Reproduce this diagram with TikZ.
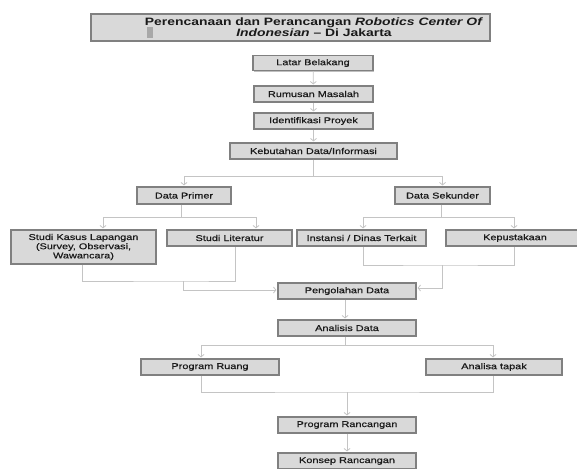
\documentclass[tikz,border=0pt]{standalone}
\usepackage{fontspec}
\setmainfont{Liberation Sans}[FakeStretch=1.3]
\newfontfamily\boxfont{Liberation Sans}[FakeStretch=1.3, FakeBold=0.6]
\usetikzlibrary{arrows.meta,shadows,calc}
\definecolor{boxfill}{HTML}{D9D9D9}
\definecolor{boxline}{HTML}{808080}
\definecolor{conn}{HTML}{C4C4C4}
\definecolor{txt}{HTML}{1A1A1A}
\definecolor{sqgray}{HTML}{A8A8A8}
\tikzset{
  box/.style={draw=boxline, line width=1.1pt, fill=boxfill, inner sep=0pt, text=txt,
    font=\boxfont\fontsize{8.4}{9.2}\selectfont,
    drop shadow={shadow xshift=1pt, shadow yshift=-1.2pt, fill=black, opacity=0.25}},
  ln/.style={draw=conn, line width=0.8pt},
  arr/.style={ln, -{Straight Barb[length=2.5pt,width=6pt,line width=0.8pt]}, shorten >=1pt},
}
\begin{document}
\begin{tikzpicture}[x=1pt,y=-1pt]
\useasboundingbox (0,0) rectangle (577,468);
% title
\node[box, minimum width=399pt, minimum height=27pt] (title) at (290.5,27.5) {};
\node[fill=sqgray, inner sep=0pt, minimum width=6pt, minimum height=11pt] (sq) at (150,32.5) {};
\node[align=center, text=txt, font=\bfseries\fontsize{10.7}{9.5}\selectfont] (tt) at (314,27)
  {Perencanaan dan Perancangan \textit{Robotics Center Of}\\\textit{Indonesian} – Di Jakarta};
% main chain
\node[box, minimum width=120pt, minimum height=15pt] (lb) at (313,63) {Latar Belakang};
\node[box, minimum width=119pt, minimum height=16pt] (rm) at (313.5,94) {Rumusan Masalah};
\node[box, minimum width=119pt, minimum height=16pt] (ip) at (313.5,121) {Identifikasi Proyek};
\node[box, minimum width=167pt, minimum height=16pt] (kb) at (313.5,151) {Kebutahan Data/Informasi};
\node[box, minimum width=94pt, minimum height=17pt] (dp) at (184,195.5) {Data Primer};
\node[box, minimum width=95pt, minimum height=17pt] (ds) at (442.5,195.5) {Data Sekunder};
\node[box, minimum width=145pt, minimum height=34pt, align=center] (sk) at (83.5,247)
  {Studi Kasus Lapangan\\(Survey, Observasi,\\Wawancara)};
\node[box, minimum width=125pt, minimum height=16pt] (sl) at (229.5,238) {Studi Literatur};
\node[box, minimum width=129pt, minimum height=16pt] (in) at (361.5,238) {Instansi / Dinas Terkait};
\node[box, minimum width=138pt, minimum height=16pt] (kp) at (515,238) {Kepustakaan};
\node[box, minimum width=138pt, minimum height=16pt] (pd) at (347,291) {Pengolahan Data};
\node[box, minimum width=138pt, minimum height=16pt] (ad) at (347,328) {Analisis Data};
\node[box, minimum width=138pt, minimum height=16pt] (pr) at (210,367) {Program Ruang};
\node[box, minimum width=136pt, minimum height=16pt] (at) at (494,367) {Analisa tapak};
\node[box, minimum width=138pt, minimum height=16pt] (prc) at (347,425) {Program Rancangan};
\node[box, minimum width=138pt, minimum height=16pt] (kr) at (347,461) {Konsep Rancangan};
% junctions
\coordinate (j1) at (183,281);
\coordinate (j2) at (442,265);
\coordinate (j3) at (347,392);
% connectors
\draw[arr] (lb) -- (rm);
\draw[arr] (rm) -- (ip);
\draw[arr] (ip) -- (kb);
\draw[arr] (kb.south) -- ++(0,17) -| (dp.north);
\draw[arr] (kb.south) -- ++(0,17) -| (ds.north);
\draw[arr] ([xshift=-3pt]dp.south) -- ++(0,12.5) -| ([xshift=19.5pt]sk.north);
\draw[arr] ([xshift=-3pt]dp.south) -- ++(0,12.5) -| ([xshift=26.5pt]sl.north);
\draw[arr] ([xshift=-1.5pt]ds.south) -- ++(0,12.5) -| ([xshift=1.5pt]in.north);
\draw[arr] ([xshift=-1.5pt]ds.south) -- ++(0,12.5) -| ([xshift=-1pt]kp.north);
\draw[ln] ([xshift=-1.5pt]sk.south) |- (j1) -| ([xshift=5.5pt]sl.south);
\draw[arr] (j1) |- ([yshift=1pt]pd.west);
\draw[ln] ([xshift=1.5pt]in.south) |- (j2) -| ([xshift=-1pt]kp.south);
\draw[arr] (j2) |- ([yshift=3pt]pd.east);
\draw[arr] ([xshift=-2pt]pd.south) -- ([xshift=-2pt]ad.north);
\draw[arr] ([xshift=-2pt]ad.south) -- ++(0,9) -| ([xshift=-9pt]pr.north);
\draw[arr] ([xshift=-2pt]ad.south) -- ++(0,9) -| ([xshift=-1pt]at.north);
\draw[ln] ([xshift=-9pt]pr.south) |- (j3) -| ([xshift=-1pt]at.south);
\draw[arr] (j3) -- (prc.north);
\draw[arr] (prc) -- (kr);
\end{tikzpicture}
\end{document}
